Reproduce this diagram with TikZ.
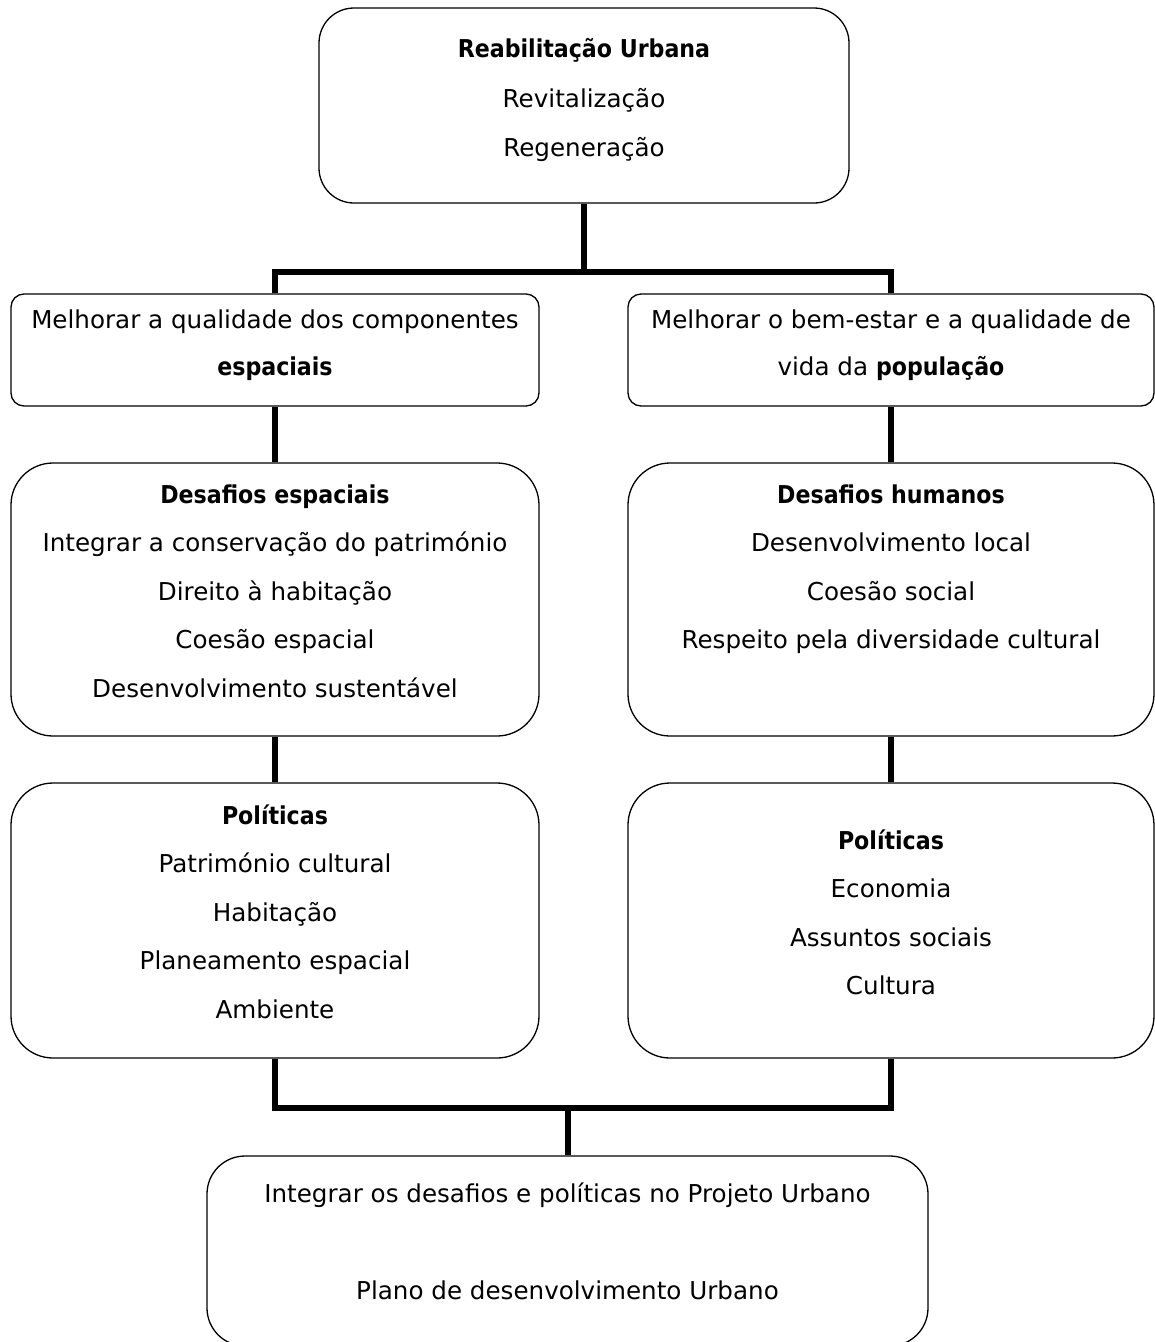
\documentclass[tikz,border=0pt]{standalone}
\usepackage{fontspec}
\setmainfont{DejaVu Sans}[BoldFont=DejaVu Sans Condensed Bold]
\begin{document}
\begin{tikzpicture}[x=1pt,y=-1pt,
  box/.style={draw=black, line width=1.3pt, inner sep=0pt},
  conn/.style={draw=black, line width=6pt, line join=miter},
  txt/.style={inner sep=0pt, anchor=base, font=\fontsize{24.6}{29}\selectfont},
  ttl/.style={txt, font=\fontsize{24.6}{29}\selectfont\bfseries}]
\useasboundingbox (0,0) rectangle (1155,1342);
% boxes
\node[box, rounded corners=35pt, minimum width=530pt, minimum height=195pt] (top) at (584,105.5) {};
\node[box, rounded corners=13pt, minimum width=528pt, minimum height=112pt] (L2l) at (275,350) {};
\node[box, rounded corners=13pt, minimum width=526pt, minimum height=112pt] (L2r) at (891,350) {};
\node[box, rounded corners=42pt, minimum width=528pt, minimum height=273pt] (L3l) at (275,599.5) {};
\node[box, rounded corners=42pt, minimum width=526pt, minimum height=273pt] (L3r) at (891,599.5) {};
\node[box, rounded corners=42pt, minimum width=528pt, minimum height=275pt] (L4l) at (275,920.5) {};
\node[box, rounded corners=42pt, minimum width=526pt, minimum height=275pt] (L4r) at (891,920.5) {};
\node[box, rounded corners=38pt, minimum width=721pt, minimum height=190pt] (bot) at (567.5,1251) {};
% connectors
\coordinate (j1) at (584,272);
\coordinate (j2) at (567.5,1108);
\draw[conn] (top.south) -- (j1);
\draw[conn] (L2l.north) |- (j1) -| (L2r.north);
\draw[conn] (L2l.south) -- (L3l.north);
\draw[conn] (L2r.south) -- (L3r.north);
\draw[conn] (L3l.south) -- (L4l.north);
\draw[conn] (L3r.south) -- (L4r.north);
\draw[conn] (L4l.south) |- (j2) -| (L4r.south);
\draw[conn] (j2) -- (bot.north);
% texts top
\node[ttl] (ta) at (584,57) {Reabilitação Urbana};
\node[txt] (tb) at (584,107) {Revitalização};
\node[txt] (tc) at (584,156) {Regeneração};
% L2
\node[txt] (la) at (275,328) {Melhorar a qualidade dos componentes};
\node[ttl] (lb) at (275,375) {espaciais};
\node[txt] (ra) at (891,328) {Melhorar o bem-estar e a qualidade de};
\node[txt] (rb) at (891,375) {vida da \textbf{população}};
% L3
\node[ttl] (l3a) at (275,503) {Desafios espaciais};
\node[txt] (l3b) at (275,551.5) {Integrar a conservação do património};
\node[txt] (l3c) at (275,600) {Direito à habitação};
\node[txt] (l3d) at (275,648.5) {Coesão espacial};
\node[txt] (l3e) at (275,697) {Desenvolvimento sustentável};
\node[ttl] (r3a) at (891,503) {Desafios humanos};
\node[txt] (r3b) at (891,551.5) {Desenvolvimento local};
\node[txt] (r3c) at (891,600) {Coesão social};
\node[txt] (r3d) at (891,648.5) {Respeito pela diversidade cultural};
% L4
\node[ttl] (l4a) at (275,824) {Políticas};
\node[txt] (l4b) at (275,872.5) {Património cultural};
\node[txt] (l4c) at (275,921) {Habitação};
\node[txt] (l4d) at (275,969.5) {Planeamento espacial};
\node[txt] (l4e) at (275,1018) {Ambiente};
\node[ttl] (r4a) at (891,849) {Políticas};
\node[txt] (r4b) at (891,897.5) {Economia};
\node[txt] (r4c) at (891,946) {Assuntos sociais};
\node[txt] (r4d) at (891,994.5) {Cultura};
% bottom
\node[txt] (ba) at (567.5,1202) {Integrar os desafios e políticas no Projeto Urbano};
\node[txt] (bb) at (567.5,1299) {Plano de desenvolvimento Urbano};
\end{tikzpicture}
\end{document}
